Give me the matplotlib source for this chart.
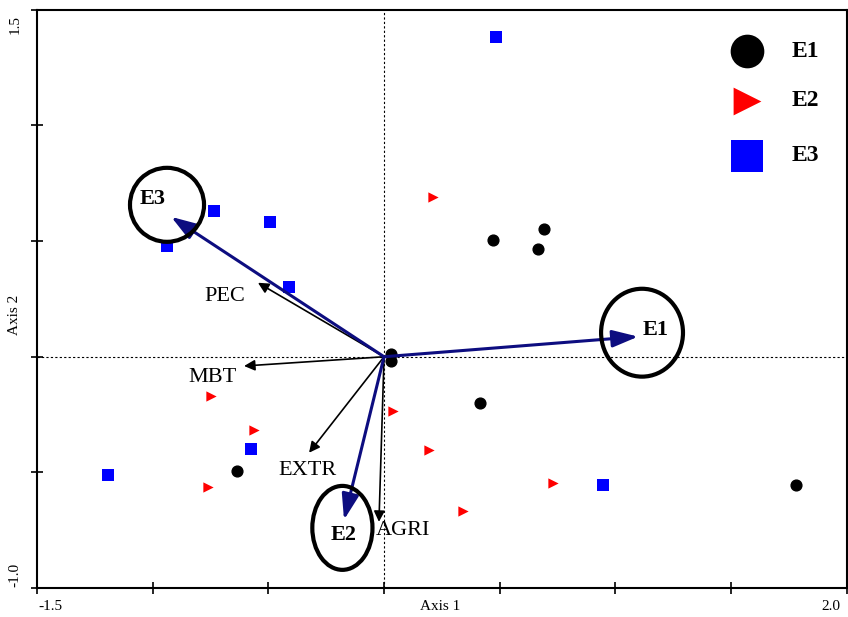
import matplotlib.pyplot as plt
from matplotlib.patches import Ellipse

plt.rcParams['font.family'] = ['Liberation Serif', 'DejaVu Serif']

# sample scores
e1_x = [0.03, 0.03, 0.47, 0.69, 0.665, 0.415, -0.636, 1.78]
e1_y = [0.01, -0.02, 0.505, 0.553, 0.466, -0.20, -0.494, -0.555]
e2_x = [0.21, -0.75, 0.04, -0.56, 0.195, -0.76, 0.73, 0.34]
e2_y = [0.69, -0.17, -0.235, -0.317, -0.403, -0.563, -0.546, -0.667]
e3_x = [0.484, -0.735, -0.493, -0.94, -0.41, -0.575, -1.193, 0.946]
e3_y = [1.383, 0.63, 0.583, 0.479, 0.302, -0.399, -0.511, -0.555]

# group centroid vectors
grp_names = ['E1', 'E2', 'E3']
grp_x = [1.098, -0.173, -0.92]
grp_y = [0.087, -0.705, 0.605]

# variable vectors
var_names = ['PEC', 'MBT', 'EXTR', 'AGRI']
var_x = [-0.545, -0.605, -0.324, -0.022]
var_y = [0.32, -0.04, -0.415, -0.714]

fig = plt.figure(figsize=(8.48, 6.17), dpi=100)
ax = fig.add_axes([0.0436, 0.047, 0.955, 0.937])
ax.set_xlim(-1.5, 2.0)
ax.set_ylim(-1.0, 1.5)

ax.axhline(0, color='black', ls=(0, (2, 2)), lw=0.8, zorder=1)
ax.axvline(0, color='black', ls=(0, (2, 2)), lw=0.8, zorder=1)

ax.scatter(e1_x, e1_y, marker='o', s=60, color='black', zorder=3)
ax.scatter(e2_x, e2_y, marker='>', s=55, color='red', linewidths=0, zorder=3)
ax.scatter(e3_x, e3_y, marker='s', s=70, color='blue', linewidths=0, zorder=3)

for vx, vy in zip(var_x, var_y):
    ax.annotate('', xy=(vx, vy), xytext=(0, 0),
                arrowprops=dict(arrowstyle='-|>', color='black', lw=1.2,
                                mutation_scale=16, shrinkA=0, shrinkB=0), zorder=4)
for gx, gy in zip(grp_x, grp_y):
    ax.annotate('', xy=(gx, gy), xytext=(0, 0),
                arrowprops=dict(arrowstyle='-|>,head_length=0.6,head_width=0.2',
                                color='#0d0d80', lw=2.2,
                                mutation_scale=26, shrinkA=0, shrinkB=0), zorder=5)

# variable labels
var_lx = [-0.69, -0.74, -0.33, 0.08]
var_ly = [0.26, -0.09, -0.49, -0.75]
for name, lx, ly in zip(var_names, var_lx, var_ly):
    ax.text(lx, ly, name, fontsize=16, ha='center', va='center', zorder=6)

# group labels and rings
grp_lx = [1.172, -0.173, -1.0]
grp_ly = [0.116, -0.77, 0.683]
ring_cx = [1.115, -0.18, -0.938]
ring_cy = [0.104, -0.74, 0.657]
ring_w = [0.354, 0.26, 0.32]
ring_h = [0.38, 0.363, 0.32]
for name, lx, ly in zip(grp_names, grp_lx, grp_ly):
    ax.text(lx, ly, name, fontsize=16, fontweight='bold', ha='center', va='center', zorder=6)
for cx, cy, w, h in zip(ring_cx, ring_cy, ring_w, ring_h):
    ax.add_patch(Ellipse((cx, cy), w, h, fill=False, ec='black', lw=3, zorder=6))

# legend drawn by hand
leg_y = [1.32, 1.108, 0.87]
ax.scatter([1.57], [leg_y[0]], marker='o', s=540, color='black')
ax.scatter([1.57], [leg_y[1]], marker='>', s=400, color='red', linewidths=0)
ax.scatter([1.57], [leg_y[2]], marker='s', s=560, color='blue', linewidths=0)
for name, ly in zip(grp_names, leg_y):
    ax.text(1.82, ly, name, fontsize=17, fontweight='bold', ha='center', va='center')

ax.set_xticks([-1.5, -1.0, -0.5, 0, 0.5, 1.0, 1.5, 2.0])
ax.set_yticks([-1.0, -0.5, 0, 0.5, 1.0, 1.5])
ax.set_xticklabels([])
ax.set_yticklabels([])
ax.tick_params(direction='inout', length=8, width=1.2)
for sp in ax.spines.values():
    sp.set_linewidth(1.5)

fig.text(50 / 848, 1 - 606 / 617, '-1.5', fontsize=11, ha='center', va='center')
fig.text(831 / 848, 1 - 606 / 617, '2.0', fontsize=11, ha='center', va='center')
fig.text(440 / 848, 1 - 606 / 617, 'Axis 1', fontsize=11, ha='center', va='center')
fig.text(15 / 848, 1 - 25 / 617, '1.5', fontsize=11, ha='center', va='center', rotation=90)
fig.text(15 / 848, 1 - 575 / 617, '-1.0', fontsize=11, ha='center', va='center', rotation=90)
fig.text(15 / 848, 1 - 315 / 617, 'Axis 2', fontsize=11, ha='center', va='center', rotation=90)

fig.savefig('out.png', dpi=100)
